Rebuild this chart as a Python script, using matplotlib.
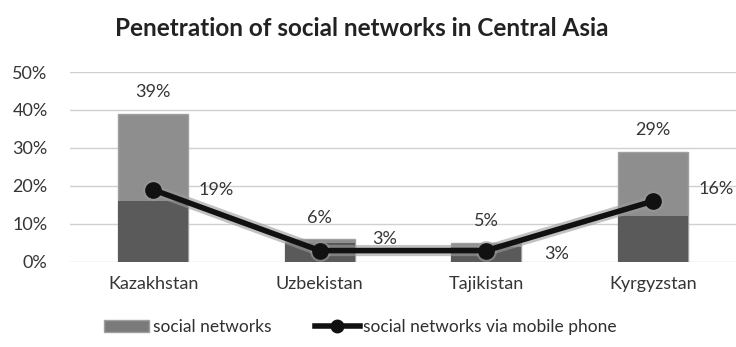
import matplotlib.pyplot as plt
import numpy as np
from matplotlib.patches import Patch
from matplotlib.lines import Line2D

plt.rcParams['font.family'] = ['Lato', 'DejaVu Sans']

countries = ['Kazakhstan', 'Uzbekistan', 'Tajikistan', 'Kyrgyzstan']
social = [39, 6, 5, 29]
mobile = [19, 3, 3, 16]
# darker lower part of each bar (shading in the original)
shade = [16, 5, 4, 12]

fig = plt.figure(figsize=(7.36, 3.47), dpi=100)
ax = fig.add_axes([0.095, 0.245, 0.905, 0.5475])

x = np.arange(len(countries))
w = 0.42
ax.bar(x, social, width=w, color='#8e8e8e', edgecolor='#a0a0a0', linewidth=1, zorder=2)
ax.bar(x, shade, width=w, color='#5a5a5a', linewidth=0, zorder=3)

# gray glow under the line
ax.plot(x, mobile, color='#9a9a9a', linewidth=8, alpha=0.6, solid_capstyle='round',
        marker='o', markersize=15, markeredgewidth=0, zorder=4)
ax.plot(x, mobile, color='#111111', linewidth=4, marker='o', markersize=11,
        markerfacecolor='#111111', markeredgecolor='#111111', zorder=5)

txt = '#353535'
for i, v in enumerate(social):
    ax.text(x[i], v + 3.6, f'{v}%', ha='center', va='bottom', fontsize=13, color=txt)

mob_off = [(0.38, 0), (0.39, 3.0), (0.42, -0.9), (0.38, 3.2)]
for i, v in enumerate(mobile):
    dx, dy = mob_off[i]
    ax.text(x[i] + dx, v + dy, f'{v}%', ha='center', va='center', fontsize=13, color=txt)

ax.set_xlim(-0.5, 3.5)
ax.set_ylim(0, 50)
ax.set_yticks(range(0, 51, 10))
ax.set_yticklabels([f'{t}%' for t in range(0, 51, 10)])
ax.set_xticks(x)
ax.set_xticklabels(countries)
ax.tick_params(axis='both', length=0, labelsize=13, labelcolor=txt)
ax.tick_params(axis='y', pad=16)
ax.tick_params(axis='x', pad=10)
ax.grid(axis='y', color='#d0d0d0', linewidth=1, zorder=0)
ax.set_axisbelow(True)
for s in ax.spines.values():
    s.set_visible(False)

fig.suptitle('Penetration of social networks in Central Asia', x=0.492, y=0.95,
             fontsize=17.5, fontweight='bold', color='#222222')

handles = [Patch(facecolor='#7a7a7a', edgecolor='#a0a0a0'),
           Line2D([0], [0], color='#111111', linewidth=4, marker='o', markersize=9)]
fig.legend(handles, ['social networks', 'social networks via mobile phone'],
           loc='center', bbox_to_anchor=(0.49, 0.058), ncol=2, frameon=False,
           fontsize=12.5, handlelength=2.6, columnspacing=2.5, handletextpad=0.2,
           labelcolor='#303030')

fig.savefig('out.png', dpi=100)
